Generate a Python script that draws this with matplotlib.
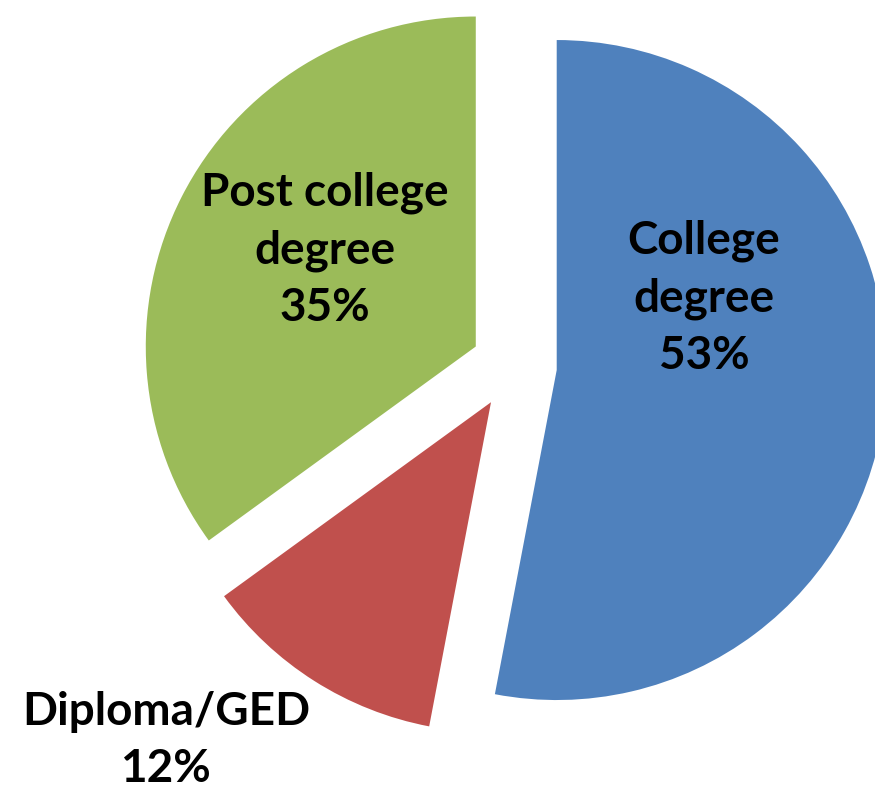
import numpy as np
import matplotlib.pyplot as plt

############ data ##################
labels = ["College\ndegree", "Diploma/GED", "Post college\ndegree"]
shares = [53, 12, 35]
colors = ["#4F81BD", "#C0504D", "#9BBB59"]
# label spots, data units relative to the pie centre
label_xy = [(0.576, 0.205), (-1.055, -1.135), (-0.573, 0.35)]

############ plot ##################
fig = plt.figure(figsize=(8.75, 7.96), dpi=100)
ax = fig.add_axes([0, 0, 1, 1])

r_px = 330.0
cx, cy = 514.0, 366.0
ax.pie(shares, colors=colors, startangle=90, counterclock=False,
       explode=[0.13, 0.13, 0.13], radius=1.0,
       wedgeprops=dict(linewidth=0))

ax.set_xlim(-cx / r_px, (875 - cx) / r_px)
ax.set_ylim(-(796 - cy) / r_px, cy / r_px)
ax.set_aspect("auto")
ax.axis("off")

for lab, val, (x, y) in zip(labels, shares, label_xy):
    ax.text(x, y, "%s\n%d%%" % (lab, val), ha="center", va="center",
            fontsize=33, fontweight="bold", family="Lato",
            color="black", linespacing=1.45)

plt.savefig("out.png", dpi=100)
